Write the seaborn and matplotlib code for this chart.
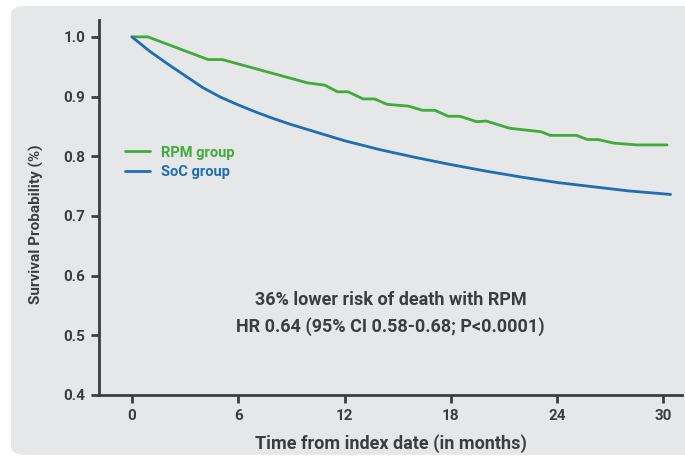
import pandas as pd
import matplotlib.pyplot as plt
import seaborn as sns
from matplotlib.patches import FancyBboxPatch

sns.set_style("white")
plt.rcParams["font.family"] = ["Roboto", "DejaVu Sans"]

# survival curves
rpm_months = [0, 0.9, 4.3, 5.1, 9.9, 10.9, 11.6, 12.2, 13.05, 13.7, 14.4, 15.6, 16.4, 17.1,
              17.85, 18.5, 19.45, 20.0, 21.3, 23.1, 23.6, 25.1, 25.7, 26.3, 27.2, 28.5, 30.2]
rpm_surv = [1.0, 1.0, 0.962, 0.962, 0.923, 0.919, 0.908, 0.908, 0.896, 0.896, 0.887, 0.884,
            0.877, 0.877, 0.867, 0.867, 0.858, 0.859, 0.847, 0.841, 0.835, 0.835, 0.828,
            0.828, 0.822, 0.819, 0.819]
soc_months = [0, 1, 2, 3, 4, 5, 6, 7, 8, 9, 10, 11, 12, 14, 16, 18, 20, 22, 24, 26, 28, 30.4]
soc_surv = [1.0, 0.976, 0.955, 0.935, 0.915, 0.899, 0.886, 0.874, 0.863, 0.853, 0.844, 0.835,
            0.826, 0.811, 0.798, 0.786, 0.775, 0.765, 0.756, 0.749, 0.742, 0.736]
x_ticks = [0, 6, 12, 18, 24, 30]
y_ticks = [0.4, 0.5, 0.6, 0.7, 0.8, 0.9, 1.0]

GREEN = "#3fab3a"
BLUE = "#1f6db4"
DARK = "#3d3d3d"
PANEL = "#e6e7e9"

rpm = pd.DataFrame({"month": rpm_months, "surv": rpm_surv})
soc = pd.DataFrame({"month": soc_months, "surv": soc_surv})

fig = plt.figure(figsize=(6.85, 4.58), dpi=100)
fig.patches.append(FancyBboxPatch((0.016, 0.007), 1.2, 0.98, boxstyle="round,pad=0,rounding_size=0.02",
                                  transform=fig.transFigure, facecolor=PANEL, edgecolor="none", zorder=-5))
ax = fig.add_axes([0.1445, 0.1376, 0.851, 0.819])
ax.set_facecolor(PANEL)

sns.lineplot(data=rpm, x="month", y="surv", color=GREEN, lw=2, label="RPM group", ax=ax)
sns.lineplot(data=soc, x="month", y="surv", color=BLUE, lw=2, label="SoC group", ax=ax)

ax.set_xlim(-1.86, 31.04)
ax.set_ylim(0.4, 1.0285)
ax.set_xticks(x_ticks)
ax.set_yticks(y_ticks)
ax.set_yticklabels([f"{v:.1f}" for v in y_ticks])
ax.tick_params(axis="both", direction="out", length=6, width=2, color=DARK,
               labelsize=11, labelcolor=DARK, pad=4, left=True, bottom=True)
for lab in ax.get_xticklabels() + ax.get_yticklabels():
    lab.set_fontweight("bold")
sns.despine(ax=ax)
for s in ["left", "bottom"]:
    ax.spines[s].set_color(DARK)
    ax.spines[s].set_linewidth(2)

ax.set_xlabel("Time from index date (in months)", fontsize=13, fontweight="bold", color=DARK, labelpad=8)
ax.set_ylabel("Survival Probability (%)", fontsize=11, fontweight="bold", color=DARK)
ax.yaxis.set_label_coords(-0.094, 0.456)

leg = ax.legend(loc="upper left", bbox_to_anchor=(0.022, 0.70), frameon=False, handlelength=1.7,
                labelcolor="linecolor", prop={"weight": "bold", "size": 10.5}, labelspacing=0.35)

ax.text(14.6, 0.559, "36% lower risk of death with RPM", ha="center", va="center",
        fontsize=13, fontweight="bold", color=DARK)
ax.text(14.6, 0.514, "HR 0.64 (95% CI 0.58-0.68; P<0.0001)", ha="center", va="center",
        fontsize=13, fontweight="bold", color=DARK)

fig.savefig("out.png", dpi=100, facecolor="white")
